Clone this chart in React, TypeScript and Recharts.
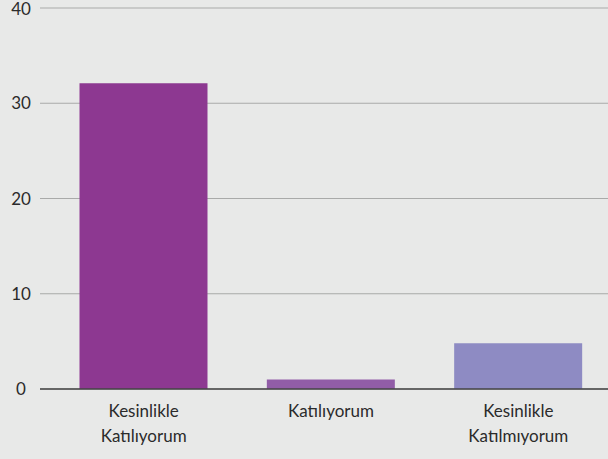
import React from "react";
import { Bar, BarChart, CartesianGrid, Cell, XAxis, YAxis } from "recharts";

const categories = ["Kesinlikle\nKatılıyorum", "Katılıyorum", "Kesinlikle\nKatılmıyorum"];
const values = [32.1, 1, 4.8];
const colors = ["#8d3891", "#915da7", "#8e8bc3"];
const yTicks = [0, 10, 20, 30, 40];

const data = categories.map((name, i) => ({ name, value: values[i] }));

const FONT = "Lato, 'Noto Sans', sans-serif";

function XTick({ x, y, payload }: any) {
  const lines = String(payload.value).split("\n");
  return (
    <text x={x} y={y + 20} textAnchor="middle" fill="#2b2b2b" fontSize={17} fontFamily={FONT}>
      {lines.map((l, i) => (
        <tspan key={i} x={x} dy={i === 0 ? 0 : 25}>
          {l}
        </tspan>
      ))}
    </text>
  );
}

function YTick({ y, payload }: any) {
  return (
    <text x={21} y={y} dy={6} textAnchor="middle" fill="#2b2b2b" fontSize={17} fontFamily={FONT}>
      {payload.value}
    </text>
  );
}

export default function App() {
  return (
    <div style={{ width: 608, height: 459, background: "#e8e9e8", overflow: "hidden" }}>
      <style>{`body{margin:0}`}</style>
      <BarChart
        width={608}
        height={459}
        data={data}
        margin={{ top: 8, right: -4, bottom: 0, left: 0 }}
        barCategoryGap={29.5}
        style={{ overflow: "hidden" }}
      >
        <CartesianGrid horizontal vertical={false} stroke="#a9aaa9" strokeWidth={1} />
        <XAxis
          dataKey="name"
          height={70}
          tick={<XTick />}
          tickLine={false}
          axisLine={{ stroke: "#444", strokeWidth: 1.5 }}
          interval={0}
          padding={{ left: 10, right: 0 }}
        />
        <YAxis
          width={40}
          domain={[0, 40]}
          ticks={yTicks}
          tick={<YTick />}
          tickLine={false}
          axisLine={false}
        />
        <Bar dataKey="value" isAnimationActive={false}>
          {data.map((d, i) => (
            <Cell key={d.name} fill={colors[i]} />
          ))}
        </Bar>
      </BarChart>
    </div>
  );
}
